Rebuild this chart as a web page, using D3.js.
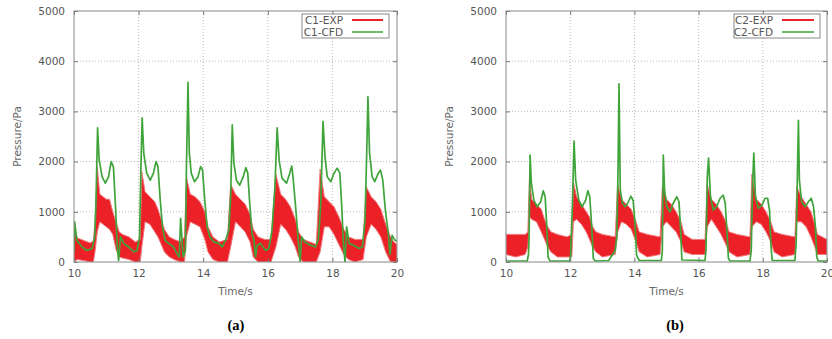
<!DOCTYPE html>
<html>
<head>
<meta charset="utf-8">
<script src="https://cdn.jsdelivr.net/npm/d3@7"></script>
<style>
  body { margin: 0; background: #fff; }
  svg { display: block; }
  .tick text { fill: #555; font-family: "DejaVu Sans", sans-serif; font-size: 10.5px; }
  .axis-label { fill: #666; font-family: "DejaVu Sans", sans-serif; font-size: 10.5px; }
  .key text { fill: #555; font-family: "DejaVu Sans", sans-serif; font-size: 10.5px; }
</style>
</head>
<body>
<svg id="chart" width="832" height="339"></svg>
<script>
// axis ticks
const timeTicks = [10, 12, 14, 16, 18, 20];
const pressureTicks = [0, 1000, 2000, 3000, 4000, 5000];

// (a) C1 - CFD line, [time, pressure]
const cfdA = [
  [10.0, 200], [10.02, 800], [10.09, 430], [10.25, 300], [10.40, 230], [10.56, 270],
  [10.64, 500], [10.68, 1170], [10.73, 2670], [10.78, 2030], [10.87, 1700], [10.97, 1570],
  [11.07, 1700], [11.15, 2000], [11.22, 1900], [11.28, 1170], [11.34, 300], [11.38, 30],
  [11.44, 500], [11.54, 370], [11.69, 300], [11.85, 200], [11.95, 230], [12.03, 500],
  [12.07, 1830], [12.11, 2870], [12.16, 2170], [12.25, 1770], [12.36, 1630], [12.46, 1770],
  [12.54, 2000], [12.60, 1900], [12.67, 1230], [12.74, 700], [12.82, 430], [12.93, 370],
  [13.08, 300], [13.20, 150], [13.26, 100], [13.30, 870], [13.38, 100], [13.45, 230],
  [13.48, 1830], [13.53, 3580], [13.57, 2170], [13.63, 1770], [13.73, 1600], [13.84, 1700],
  [13.92, 1900], [13.98, 1830], [14.04, 1300], [14.12, 700], [14.21, 500], [14.33, 400],
  [14.48, 370], [14.59, 300], [14.69, 430], [14.79, 630], [14.85, 1300], [14.90, 2730],
  [14.95, 1970], [15.03, 1630], [15.13, 1530], [15.24, 1700], [15.32, 1880], [15.38, 1770],
  [15.44, 1170], [15.51, 570], [15.57, 430], [15.62, 100], [15.67, 330], [15.77, 370],
  [15.93, 230], [16.03, 270], [16.13, 630], [16.22, 1500], [16.29, 2670], [16.35, 2030],
  [16.44, 1670], [16.58, 1570], [16.68, 1770], [16.74, 1910], [16.78, 1700], [16.87, 1030],
  [16.95, 370], [17.00, 0], [17.05, 500], [17.15, 400], [17.33, 330], [17.48, 300],
  [17.57, 470], [17.64, 1170], [17.71, 2800], [17.77, 2100], [17.84, 1700], [17.95, 1600],
  [18.05, 1770], [18.15, 1870], [18.23, 1770], [18.29, 1100], [18.34, 370], [18.39, 0],
  [18.44, 700], [18.52, 370], [18.67, 330], [18.82, 270], [18.93, 300], [19.01, 830],
  [19.06, 2100], [19.10, 3290], [19.15, 2170], [19.23, 1700], [19.31, 1600], [19.42, 1770],
  [19.49, 1830], [19.56, 1630], [19.64, 1030], [19.73, 570], [19.78, 150], [19.85, 530],
  [19.94, 430], [20.0, 420]
];

// (a) C1 - EXP band, [time, low, high]
const expA = [
  [10.0, 0, 650], [10.1, 50, 480], [10.3, 30, 430], [10.5, 0, 380], [10.6, 0, 420],
  [10.65, 200, 800], [10.72, 600, 1900], [10.8, 800, 1350], [10.9, 750, 1300], [11.0, 700, 1250],
  [11.1, 650, 1250], [11.2, 550, 1000], [11.3, 250, 800], [11.4, 100, 600], [11.5, 80, 550],
  [11.7, 50, 500], [11.9, 0, 400], [12.05, 0, 450], [12.1, 300, 1800], [12.2, 800, 1400],
  [12.35, 750, 1300], [12.5, 600, 1200], [12.6, 500, 1050], [12.7, 350, 850], [12.8, 200, 650],
  [12.95, 100, 500], [13.1, 50, 450], [13.3, 0, 400], [13.42, 0, 500], [13.48, 500, 1700],
  [13.6, 800, 1350], [13.75, 750, 1300], [13.9, 700, 1200], [14.05, 450, 1000], [14.15, 200, 700],
  [14.3, 50, 500], [14.5, 0, 400], [14.75, 0, 450], [14.85, 300, 1550], [15.0, 800, 1350],
  [15.15, 700, 1250], [15.3, 600, 1150], [15.45, 400, 950], [15.55, 100, 650], [15.7, 0, 500],
  [15.9, 0, 450], [16.1, 0, 450], [16.25, 300, 1750], [16.4, 750, 1350], [16.55, 650, 1250],
  [16.7, 500, 1100], [16.85, 300, 850], [16.95, 100, 600], [17.1, 0, 450], [17.3, 0, 400],
  [17.5, 0, 350], [17.62, 200, 1850], [17.75, 700, 1300], [17.9, 700, 1200], [18.05, 550, 1100],
  [18.2, 350, 900], [18.35, 150, 650], [18.5, 50, 500], [18.7, 0, 450], [18.95, 50, 450],
  [19.05, 500, 1500], [19.2, 750, 1300], [19.35, 650, 1200], [19.5, 500, 1050], [19.65, 200, 750],
  [19.8, 0, 500], [19.9, 0, 400], [20.0, 0, 350]
];

// (b) C2 - CFD line, [time, pressure]
const cfdB = [
  [10.0, 20], [10.66, 20], [10.70, 150], [10.72, 500], [10.75, 2130], [10.79, 1570],
  [10.87, 1230], [10.97, 1100], [11.08, 1200], [11.16, 1420], [11.22, 1300], [11.26, 830],
  [11.31, 100], [11.37, 20], [11.98, 20], [12.01, 100], [12.07, 1170], [12.12, 2410],
  [12.17, 1630], [12.27, 1230], [12.37, 1100], [12.48, 1230], [12.55, 1420], [12.61, 1300],
  [12.67, 700], [12.72, 70], [12.78, 20], [13.2, 30], [13.3, 130], [13.4, 230],
  [13.45, 500], [13.49, 1830], [13.52, 3550], [13.56, 1430], [13.63, 1170], [13.71, 1100],
  [13.79, 1170], [13.89, 1310], [13.96, 1230], [14.02, 770], [14.07, 130], [14.15, 30],
  [14.84, 30], [14.87, 230], [14.90, 2130], [14.94, 1430], [15.01, 1100], [15.11, 1000],
  [15.21, 1170], [15.32, 1300], [15.39, 1200], [15.44, 630], [15.48, 40], [16.2, 30],
  [16.23, 230], [16.27, 1700], [16.31, 2070], [16.37, 1300], [16.46, 1030], [16.56, 1100],
  [16.67, 1270], [16.77, 1330], [16.83, 1170], [16.88, 630], [16.93, 70], [16.98, 20],
  [17.6, 20], [17.64, 230], [17.68, 1500], [17.72, 2170], [17.77, 1300], [17.86, 1070],
  [17.97, 1130], [18.07, 1270], [18.15, 1270], [18.21, 1030], [18.25, 370], [18.29, 30],
  [19.0, 30], [19.04, 370], [19.08, 1830], [19.11, 2820], [19.14, 1630], [19.21, 1200],
  [19.32, 1100], [19.42, 1200], [19.51, 1270], [19.58, 1100], [19.64, 700], [19.68, 100],
  [19.73, 20], [20.0, 20]
];

// (b) C2 - EXP band, [time, low, high]
const expB = [
  [10.0, 150, 550], [10.3, 100, 550], [10.6, 150, 550], [10.68, 300, 600], [10.73, 900, 1650],
  [10.8, 850, 1250], [10.95, 800, 1150], [11.1, 600, 1050], [11.2, 450, 850], [11.3, 300, 700],
  [11.4, 200, 600], [11.6, 100, 550], [11.9, 100, 500], [12.05, 100, 550], [12.1, 800, 1600],
  [12.2, 850, 1300], [12.35, 750, 1150], [12.5, 600, 1000], [12.6, 450, 900], [12.7, 300, 700],
  [12.8, 200, 600], [13.0, 100, 550], [13.4, 150, 500], [13.48, 600, 1550], [13.6, 800, 1250],
  [13.75, 750, 1150], [13.9, 650, 1050], [14.05, 400, 800], [14.15, 200, 600], [14.4, 100, 550],
  [14.8, 150, 500], [14.87, 700, 1500], [15.0, 800, 1250], [15.15, 700, 1150], [15.3, 600, 1000],
  [15.45, 400, 800], [15.55, 200, 550], [15.8, 150, 450], [16.2, 150, 450], [16.27, 700, 1550],
  [16.4, 850, 1250], [16.55, 700, 1150], [16.7, 550, 1000], [16.85, 350, 800], [16.95, 200, 600],
  [17.2, 100, 550], [17.6, 150, 500], [17.66, 700, 1750], [17.8, 800, 1250], [17.95, 750, 1150],
  [18.1, 600, 1000], [18.25, 400, 800], [18.35, 200, 600], [18.6, 100, 550], [19.0, 150, 500],
  [19.06, 800, 1500], [19.2, 800, 1300], [19.35, 700, 1150], [19.5, 500, 1000], [19.62, 300, 750],
  [19.7, 150, 550], [20.0, 150, 450]
];

const RED = '#ec2027';
const GREEN = '#3fa43a';

const svg = d3.select('#chart');

function drawPanel(p) {
  const x = d3.scaleLinear().domain([10, 20]).range([p.left, p.right]);
  const y = d3.scaleLinear().domain([0, 5000]).range([p.bottom, p.top]);
  const g = svg.append('g');

  // grid
  g.append('g').selectAll('line.gx')
    .data(timeTicks.slice(1, -1))
    .join('line')
    .attr('x1', d => x(d)).attr('x2', d => x(d))
    .attr('y1', p.top).attr('y2', p.bottom)
    .attr('stroke', '#bbb').attr('stroke-dasharray', '1,2');
  g.append('g').selectAll('line.gy')
    .data(pressureTicks.slice(1, -1))
    .join('line')
    .attr('x1', p.left).attr('x2', p.right)
    .attr('y1', d => y(d)).attr('y2', d => y(d))
    .attr('stroke', '#bbb').attr('stroke-dasharray', '1,2');

  const clipId = 'clip-' + p.id;
  svg.append('clipPath').attr('id', clipId)
    .append('rect')
    .attr('x', p.left).attr('y', p.top)
    .attr('width', p.right - p.left).attr('height', p.bottom - p.top);

  const plot = g.append('g').attr('clip-path', `url(#${clipId})`);

  // EXP band
  const band = d3.area()
    .x(d => x(d[0]))
    .y0(d => y(d[1]))
    .y1(d => y(d[2]));
  plot.append('path')
    .datum(p.exp)
    .attr('d', band)
    .attr('fill', RED)
    .attr('stroke', '#f07a7e')
    .attr('stroke-width', 1);

  // CFD line
  const line = d3.line().x(d => x(d[0])).y(d => y(d[1]));
  plot.append('path')
    .datum(p.cfd)
    .attr('d', line)
    .attr('fill', 'none')
    .attr('stroke', GREEN)
    .attr('stroke-width', 1.7)
    .attr('stroke-linejoin', 'round');

  // axes, gnuplot style inward ticks
  const fmt = d3.format('d');
  g.append('g')
    .attr('transform', `translate(0,${p.bottom})`)
    .call(d3.axisBottom(x).tickValues(timeTicks).tickFormat(fmt).tickSize(-4).tickPadding(8));
  g.append('g')
    .attr('transform', `translate(${p.left},0)`)
    .call(d3.axisLeft(y).tickValues(pressureTicks).tickFormat(fmt).tickSize(-4).tickPadding(9));
  g.append('g')
    .attr('transform', `translate(0,${p.top})`)
    .call(d3.axisTop(x).tickValues(timeTicks).tickSize(-4).tickFormat(''));
  g.append('g')
    .attr('transform', `translate(${p.right},0)`)
    .call(d3.axisRight(y).tickValues(pressureTicks).tickSize(-4).tickFormat(''));
  g.selectAll('.domain').remove();
  g.selectAll('.tick line').attr('stroke', '#777');

  g.append('rect')
    .attr('x', p.left).attr('y', p.top)
    .attr('width', p.right - p.left).attr('height', p.bottom - p.top)
    .attr('fill', 'none').attr('stroke', '#888').attr('stroke-width', 1);

  // labels
  g.append('text').attr('class', 'axis-label')
    .attr('x', (p.left + p.right) / 2).attr('y', 295)
    .attr('text-anchor', 'middle')
    .text('Time/s');
  g.append('text').attr('class', 'axis-label')
    .attr('transform', `translate(${p.ylabelX},${(p.top + p.bottom) / 2}) rotate(-90)`)
    .attr('text-anchor', 'middle')
    .attr('dy', '0.35em')
    .text('Pressure/Pa');
  g.append('text')
    .attr('x', p.captionX).attr('y', 330)
    .attr('text-anchor', 'middle')
    .style('font-family', '"Liberation Serif", serif')
    .style('font-weight', 'bold')
    .style('font-size', '14.5px')
    .text(p.caption);

  // key
  const key = g.append('g').attr('class', 'key');
  key.append('rect')
    .attr('x', p.keyX).attr('y', 14)
    .attr('width', p.keyW).attr('height', 24)
    .attr('fill', '#fff').attr('stroke', '#888');
  const entries = [
    { name: p.names[0], color: RED, w: 2 },
    { name: p.names[1], color: GREEN, w: 1.5 }
  ];
  entries.forEach((e, i) => {
    const cy = 20 + i * 12;
    key.append('text')
      .attr('x', p.keyX + p.keyTextR).attr('y', cy)
      .attr('dy', '0.35em')
      .attr('text-anchor', 'end')
      .text(e.name);
    key.append('line')
      .attr('x1', p.keyX + p.keyTextR + 9).attr('x2', p.keyX + p.keyW - 6)
      .attr('y1', cy).attr('y2', cy)
      .attr('stroke', e.color).attr('stroke-width', e.w);
  });
}

drawPanel({
  id: 'a', left: 74, right: 397, top: 11, bottom: 262,
  cfd: cfdA, exp: expA, names: ['C1-EXP', 'C1-CFD'],
  ylabelX: 17, captionX: 236, caption: '(a)',
  keyX: 302, keyW: 87, keyTextR: 41
});
drawPanel({
  id: 'b', left: 506, right: 827, top: 11, bottom: 262,
  cfd: cfdB, exp: expB, names: ['C2-EXP', 'C2-CFD'],
  ylabelX: 449, captionX: 675, caption: '(b)',
  keyX: 734, keyW: 86, keyTextR: 39
});
</script>
</body>
</html>
